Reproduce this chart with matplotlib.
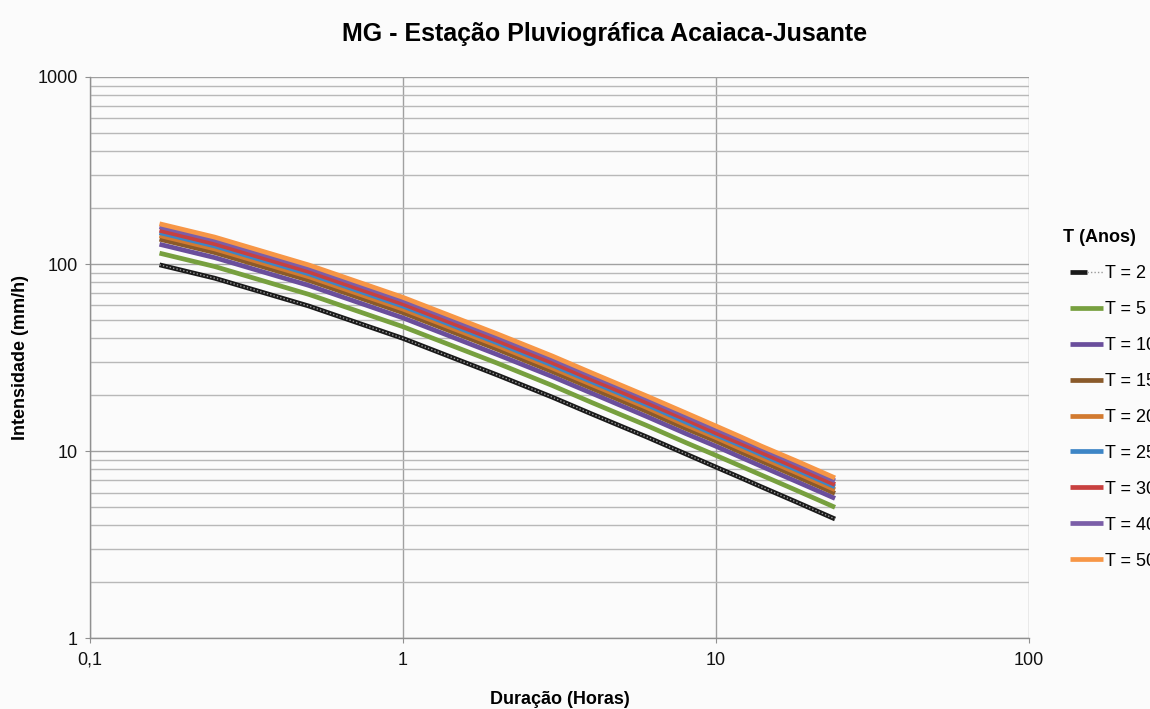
import matplotlib
matplotlib.use("Agg")
import matplotlib.pyplot as plt
from matplotlib.ticker import FixedLocator, FixedFormatter, LogLocator, NullFormatter
from matplotlib.legend_handler import HandlerTuple

plt.rcParams['font.family'] = ['Liberation Sans', 'DejaVu Sans']

# Duration (hours)
duracao = [0.1667, 0.25, 0.5, 1, 2, 3, 4, 6, 8, 10, 12, 14, 18, 24]

# Intensity (mm/h) per return period
T2 = [99, 84, 59.6, 40, 25.5, 19.4, 15.8, 11.9, 9.65, 8.2, 7.19, 6.42, 5.35, 4.33]
T5 = [114.3, 97.0, 68.8, 46.2, 29.5, 22.4, 18.2, 13.7, 11.1, 9.47, 8.30, 7.42, 6.18, 5.00]
T10 = [127.5, 108.2, 76.8, 51.5, 32.8, 25.0, 20.4, 15.3, 12.4, 10.6, 9.26, 8.27, 6.89, 5.58]
T15 = [135.8, 115.2, 81.8, 54.9, 35.0, 26.6, 21.7, 16.3, 13.2, 11.3, 9.86, 8.81, 7.34, 5.94]
T20 = [142.1, 120.5, 85.5, 57.4, 36.6, 27.8, 22.7, 17.1, 13.8, 11.8, 10.3, 9.21, 7.68, 6.21]
T25 = [147.2, 124.9, 88.6, 59.5, 37.9, 28.8, 23.5, 17.7, 14.3, 12.2, 10.7, 9.55, 7.96, 6.44]
T30 = [151.5, 128.5, 91.2, 61.2, 39.0, 29.7, 24.2, 18.2, 14.8, 12.5, 11.0, 9.82, 8.19, 6.62]
T40 = [158.5, 134.5, 95.4, 64.0, 40.8, 31.1, 25.3, 19.1, 15.4, 13.1, 11.5, 10.3, 8.57, 6.93]
T50 = [164.1, 139.3, 98.8, 66.3, 42.3, 32.2, 26.2, 19.7, 16.0, 13.6, 11.9, 10.6, 8.87, 7.18]

series_labels = ["T = 2", "T = 5", "T = 10", "T = 15", "T = 20", "T = 25", "T = 30", "T = 40", "T = 50"]
series_values = [T2, T5, T10, T15, T20, T25, T30, T40, T50]
series_colors = ["#1a1a1a", "#77A03F", "#6A4E9C", "#8A5A2A", "#D27A30", "#3D85C6", "#C8403F", "#7B5EA8", "#F79646"]

x_ticks = [0.1, 1, 10, 100]
x_ticklabels = ["0,1", "1", "10", "100"]
y_ticks = [1, 10, 100, 1000]
y_ticklabels = ["1", "10", "100", "1000"]

bg = "#FBFBFB"
fs = 13
fig = plt.figure(figsize=(11.5, 7.09), dpi=100, facecolor=bg)
ax = fig.add_axes([0.0783, 0.1001, 0.8165, 0.7913], facecolor=bg)

handles = []
for i, (lab, vals, col) in enumerate(zip(series_labels, series_values, series_colors)):
    if i == 0:
        l1, = ax.plot(duracao, vals, color=col, lw=3.4, solid_capstyle='butt', zorder=3)
        l2, = ax.plot(duracao, vals, color="#9a9a9a", lw=1.0, linestyle=(0, (1, 1.5)), zorder=3.1)
        handles.append((l1, l2))
    else:
        l, = ax.plot(duracao, vals, color=col, lw=3.4, solid_capstyle='butt', zorder=3 + i * 0.01)
        handles.append(l)

ax.set_xscale('log')
ax.set_yscale('log')
ax.set_xlim(0.1, 100)
ax.set_ylim(1, 1000)

ax.xaxis.set_major_locator(FixedLocator(x_ticks))
ax.xaxis.set_major_formatter(FixedFormatter(x_ticklabels))
ax.xaxis.set_minor_locator(FixedLocator([]))
ax.yaxis.set_major_locator(FixedLocator(y_ticks))
ax.yaxis.set_major_formatter(FixedFormatter(y_ticklabels))
ax.yaxis.set_minor_locator(LogLocator(base=10, subs=range(2, 10)))
ax.yaxis.set_minor_formatter(NullFormatter())

ax.grid(True, which='major', axis='both', color='#a0a0a0', lw=1.0)
ax.grid(True, which='minor', axis='y', color='#b8b8b8', lw=1.0)
ax.set_axisbelow(True)

for s in ['top', 'right']:
    ax.spines[s].set_visible(False)
for s in ['left', 'bottom']:
    ax.spines[s].set_color('#909090')
    ax.spines[s].set_linewidth(1.0)

ax.tick_params(axis='both', which='major', length=3.5, color='#909090', labelsize=fs, labelcolor='#111111')
ax.tick_params(axis='y', which='minor', length=0)
ax.tick_params(axis='y', which='major', pad=5.5)
ax.tick_params(axis='x', which='major', pad=6.5)

ax.set_xlabel("Duração (Horas)", fontsize=fs, fontweight='bold', labelpad=16)
ax.set_ylabel("Intensidade (mm/h)", fontsize=fs, fontweight='bold', labelpad=6)
fig.text(0.5261, 0.952, "MG - Estação Pluviográfica Acaiaca-Jusante", ha='center', va='center',
         fontsize=18, fontweight='bold')

fig.text(1063 / 1150, 1 - 238 / 709, "T (Anos)", ha='left', va='center', fontsize=fs, fontweight='bold')
leg = ax.legend(handles, series_labels, loc='upper left',
                bbox_to_anchor=(1070 / 1150, 1 - 265 / 709), bbox_transform=fig.transFigure,
                frameon=False, fontsize=fs, handlelength=1.85, handletextpad=0.1,
                labelspacing=1.05, borderaxespad=0, borderpad=0,
                handler_map={tuple: HandlerTuple(ndivide=None, pad=0)})

fig.savefig("out.png", dpi=100, facecolor=bg)
